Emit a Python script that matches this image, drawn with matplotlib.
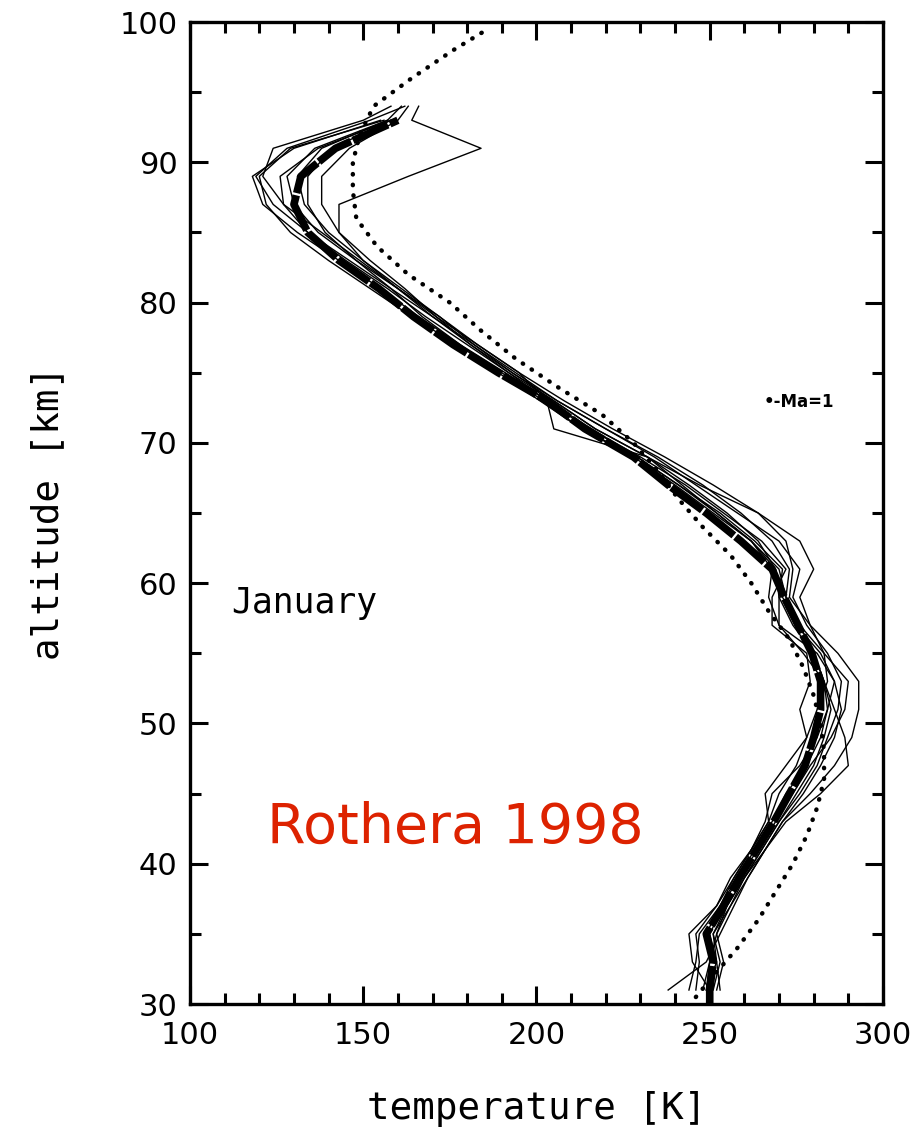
import numpy as np
import matplotlib
matplotlib.use("Agg")
import matplotlib.pyplot as plt

nan = np.nan

# altitude grid (km) of the individual soundings
altitude = [31, 33, 35, 37, 39, 41, 43, 45, 47, 49, 51, 53, 55, 57, 59, 61,
            63, 65, 67, 69, 71, 73, 75, 77, 79, 81, 83, 85, 87, 89, 91, 93, 94]

# individual January 1998 temperature profiles (K)
profile_1 = [248, 250, 252, 256, 260, 265, 270, 276, 281, 284, 287, 288, 284, 278, 274, 276,
             270, 258, 246, 234, 220, 206, 193, 181, 170, 158, 146, 134, 124, 119, 128, 152, 162]
profile_2 = [252, 254, 252, 255, 260, 266, 272, 282, 290, 289, 286, 283, 280, 276, 272, 270,
             262, 252, 242, 232, 217, 205, 193, 182, 172, 160, 150, 143, 143, 163, 184, 164, 166]
profile_3 = [244, 246, 247, 253, 257, 262, 267, 266, 272, 278, 276, 279, 278, 268, 268, 272,
             265, 254, 243, 230, 215, 203, 191, 178, 166, 155, 143, 131, 121, 118, 130, 155, nan]
profile_4 = [238, 249, 253, 257, 261, 266, 271, 279, 286, 291, 293, 293, 287, 279, 273, 274,
             272, 264, 251, 237, 222, 208, 195, 183, 171, 160, 149, 138, 127, 121, 124, 150, 158]
profile_5 = [246, 247, 246, 252, 257, 262, 267, 270, 275, 278, 281, 284, 283, 279, 276, 280,
             276, 264, 247, 232, 217, 205, 192, 180, 168, 157, 145, 134, 127, 126, 137, 158, nan]
profile_6 = [251, 253, 251, 255, 260, 265, 270, 275, 280, 283, 285, 283, 277, 270, 270, 271,
             263, 253, 241, 229, 216, 203, 192, 181, 171, 162, 152, 143, 138, 138, 146, 160, 163]
profile_7 = [249, 252, 250, 254, 258, 264, 269, 274, 279, 285, 289, 290, 283, 276, 271, 269,
             262, 252, 241, 229, 213, 201, 189, 178, 167, 158, 148, 139, 134, 134, 141, 158, nan]
profile_8 = [250, 245, 244, 252, 256, 262, 266, 268, 276, 281, 284, 286, 281, 270, 267, 268,
             262, 251, 240, 228, 213, 202, 190, 177, 164, 152, 140, 129, 122, 120, 129, 156, nan]
profile_9 = [253, 252, 251, 256, 261, 266, 271, 277, 282, 286, 288, 286, 282, 275, 272, 273,
             268, 259, 248, 235, 220, 206, 194, 182, 170, 160, 148, 137, 130, 128, 136, 157, 161]
profile_10 = [249, 250, 249, 253, 258, 263, 268, 272, 278, 282, 284, 283, 280, 274, 270, 269,
              264, 255, 244, 232, 205, 203, 195, 183, 172, 161, 150, 140, 133, 131, 138, 157, nan]

# monthly mean profile (thick line)
mean_altitude = [30, 31, 33, 35, 37, 39, 41, 43, 45, 47, 49, 51, 53, 55, 57, 59, 61,
                 63, 65, 67, 69, 71, 73, 75, 77, 79, 81, 83, 85, 87, 89, 91, 93]
mean_temperature = [250, 250, 251, 249, 254, 258.5, 263.5, 268.5, 273, 277.5, 280, 282, 282,
                    279.5, 275.5, 271.5, 268, 259, 249, 238, 228, 214, 203, 189, 176, 164.5,
                    154.5, 143, 134, 130, 132, 142, 160]

# reference climatology (dotted line)
ref_altitude = [30.5, 32, 34, 36, 38, 40, 42, 44, 46, 48, 50, 52, 54, 56, 58, 60, 62, 64,
                66, 68, 70, 72, 74, 76, 78, 80, 82, 84, 86, 88, 90, 92, 94, 96, 98, 99.6]
ref_temperature = [246, 251, 258, 264, 269, 274, 278, 281, 283, 283, 282, 280, 277, 273,
                   267, 262, 256, 248, 241, 235, 228, 219, 206, 194, 184, 175, 163, 154,
                   148, 147, 147, 149, 153, 164, 176, 186.6]

x_ticks = [100, 150, 200, 250, 300]
y_ticks = [30, 40, 50, 60, 70, 80, 90, 100]

profiles = [profile_1, profile_2, profile_3, profile_4, profile_5,
            profile_6, profile_7, profile_8, profile_9, profile_10]

fig = plt.figure(figsize=(9.21, 11.42), dpi=100)
ax = fig.add_axes([0.2063, 0.1208, 0.7524, 0.8599])

for p in profiles:
    ax.plot(p, altitude, color="black", lw=1.0, zorder=2)

ax.plot(mean_temperature, mean_altitude, color="black", lw=5.5,
        linestyle=(0, (5, 0.3)), solid_capstyle="butt", zorder=3)
ax.plot(ref_temperature, ref_altitude, color="black", lw=3.2,
        linestyle=(0, (0.1, 2.3)), dash_capstyle="round", zorder=3)

ax.set_xlim(100, 300)
ax.set_ylim(30, 100)
ax.set_xticks(x_ticks)
ax.set_yticks(y_ticks)
ax.set_xticks(np.arange(100, 301, 10), minor=True)
ax.set_yticks(np.arange(30, 101, 5), minor=True)
ax.tick_params(which="both", direction="in", top=True, right=True, width=2.2,
               labelsize=22, colors="black")
ax.tick_params(which="major", length=13)
ax.tick_params(which="minor", length=8)
ax.tick_params(axis="x", pad=12)
ax.tick_params(axis="y", pad=9)
for s in ax.spines.values():
    s.set_linewidth(2.4)

ax.set_xlabel("temperature [K]", fontsize=27, family="DejaVu Sans Mono", labelpad=30)
ax.set_ylabel("altitude [km]", fontsize=27, family="DejaVu Sans Mono", labelpad=38)

ax.text(112, 58.6, "January", fontsize=25, family="DejaVu Sans Mono", va="center", ha="left")
ax.text(176.5, 42.6, "Rothera 1998", fontsize=40, color="#dd2200", va="center",
        ha="center", family="DejaVu Sans")
ax.text(265.5, 72.9, "•-Ma=1", fontsize=12, fontweight="bold", va="center", ha="left")

fig.savefig("out.png", dpi=100)
